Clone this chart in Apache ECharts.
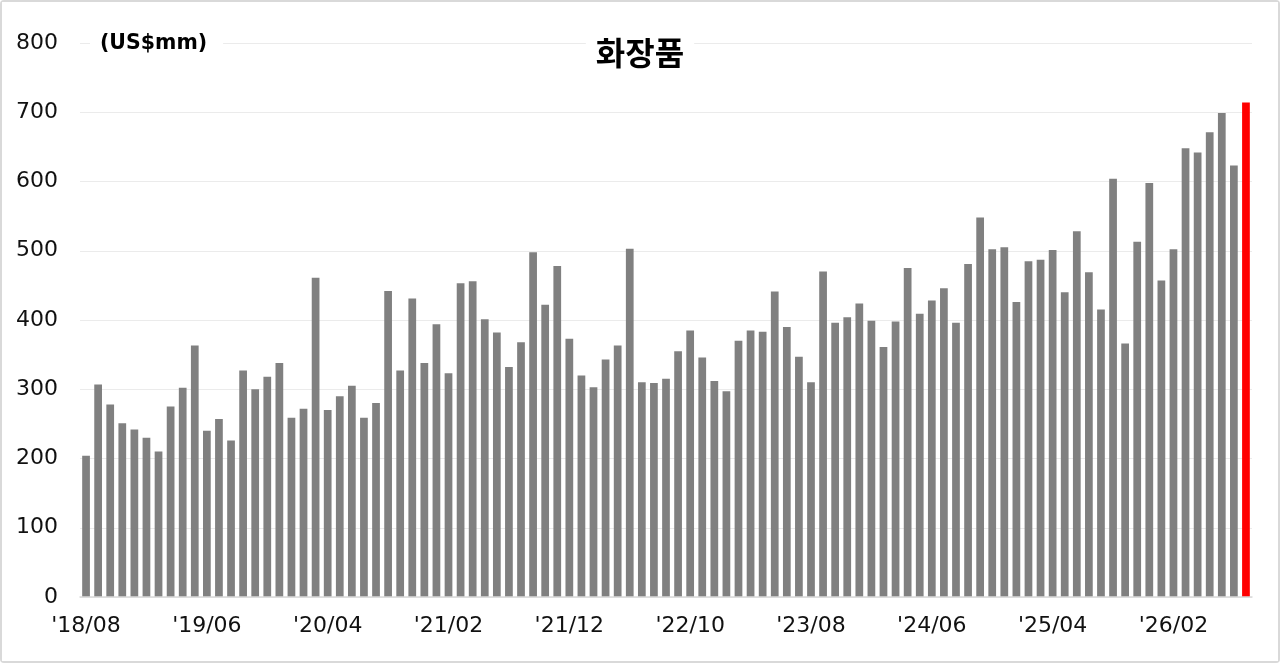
<!DOCTYPE html>
<html>
<head>
<meta charset="utf-8">
<script src="https://cdn.jsdelivr.net/npm/echarts@6/dist/echarts.min.js"></script>
<style>
  html, body { margin: 0; padding: 0; background: #fff; }
  #wrap { position: absolute; left: 0; top: 0; width: 1276px; height: 659px; border: 2px solid #d9d9d9; border-radius: 4px; background: #fff; }
  #chart { width: 1276px; height: 659px; }
</style>
</head>
<body>
<div id="wrap"><div id="chart"></div></div>
<script>
const chartTitle = '화장품';
const unitLabel = '(US$mm)';
const categories = [
  "'18/08","'18/09","'18/10","'18/11","'18/12",
  "'19/01","'19/02","'19/03","'19/04","'19/05","'19/06","'19/07","'19/08","'19/09","'19/10","'19/11","'19/12",
  "'20/01","'20/02","'20/03","'20/04","'20/05","'20/06","'20/07","'20/08","'20/09","'20/10","'20/11","'20/12",
  "'21/01","'21/02","'21/03","'21/04","'21/05","'21/06","'21/07","'21/08","'21/09","'21/10","'21/11","'21/12",
  "'22/01","'22/02","'22/03","'22/04","'22/05","'22/06","'22/07","'22/08","'22/09","'22/10","'22/11","'22/12",
  "'23/01","'23/02","'23/03","'23/04","'23/05","'23/06","'23/07","'23/08","'23/09","'23/10","'23/11","'23/12",
  "'24/01","'24/02","'24/03","'24/04","'24/05","'24/06","'24/07","'24/08","'24/09","'24/10","'24/11","'24/12",
  "'25/01","'25/02","'25/03","'25/04","'25/05","'25/06","'25/07","'25/08","'25/09","'25/10","'25/11","'25/12",
  "'26/01","'26/02","'26/03","'26/04","'26/05","'26/06","'26/07","'26/08"
];
const values = [
  204, 307, 278, 251, 242, 230, 210, 275, 302, 363,
  240, 257, 226, 327, 300, 318, 338, 259, 272, 461,
  270, 290, 305, 259, 280, 442, 327, 431, 338, 394,
  323, 453, 456, 401, 382, 332, 368, 498, 422, 478,
  373, 320, 303, 343, 363, 503, 310, 309, 315, 355,
  385, 346, 312, 297, 370, 385, 383, 441, 390, 347,
  310, 470, 396, 404, 424, 399, 361, 398, 475, 409,
  428, 446, 396, 481, 548, 502, 505, 426, 485, 487,
  501, 440, 528, 469, 415, 604, 366, 513, 598, 457,
  502, 648, 642, 671, 699, 623, 714
];
const yTicks = [0, 100, 200, 300, 400, 500, 600, 700, 800];
const highlightIndex = values.length - 1;

const chart = echarts.init(document.getElementById('chart'));
const font = 'DejaVu Sans';
chart.setOption({
  animation: false,
  backgroundColor: '#fff',
  title: [
    {
      text: chartTitle, left: 'center', top: 31,
      padding: [4, 10],
      backgroundColor: '#fff',
      textStyle: { fontFamily: 'Noto Sans CJK KR', fontWeight: 'bold', fontSize: 32, color: '#000' }
    },
    {
      text: unitLabel, left: 88, top: 29,
      padding: [2, 16, 2, 10],
      backgroundColor: '#fff',
      textStyle: { fontFamily: font, fontWeight: 'bold', fontSize: 20.5, color: '#000' }
    }
  ],
  grid: { left: 78, right: 26, top: 41, bottom: 64, containLabel: false },
  xAxis: {
    type: 'category',
    data: categories,
    boundaryGap: true,
    axisLine: { lineStyle: { color: '#d9d9d9', width: 1.5 } },
    axisTick: { interval: 9, length: 6, lineStyle: { color: '#d9d9d9', width: 1.5 } },
    axisLabel: { interval: 9, margin: 18, fontFamily: font, fontSize: 22, color: '#111' },
    z: 3
  },
  yAxis: {
    type: 'value',
    min: yTicks[0], max: yTicks[yTicks.length - 1], interval: 100,
    axisLine: { show: false },
    axisTick: { show: false },
    axisLabel: { margin: 22, fontFamily: font, fontSize: 22, color: '#111' },
    splitLine: { lineStyle: { color: '#ebebeb', width: 1 } }
  },
  series: [{
    type: 'bar',
    data: values.map((v, i) => ({
      value: v,
      itemStyle: { color: i === highlightIndex ? '#ff0000' : '#808080' }
    })),
    barCategoryGap: '36%',
    z: 2
  }]
});
</script>
</body>
</html>
